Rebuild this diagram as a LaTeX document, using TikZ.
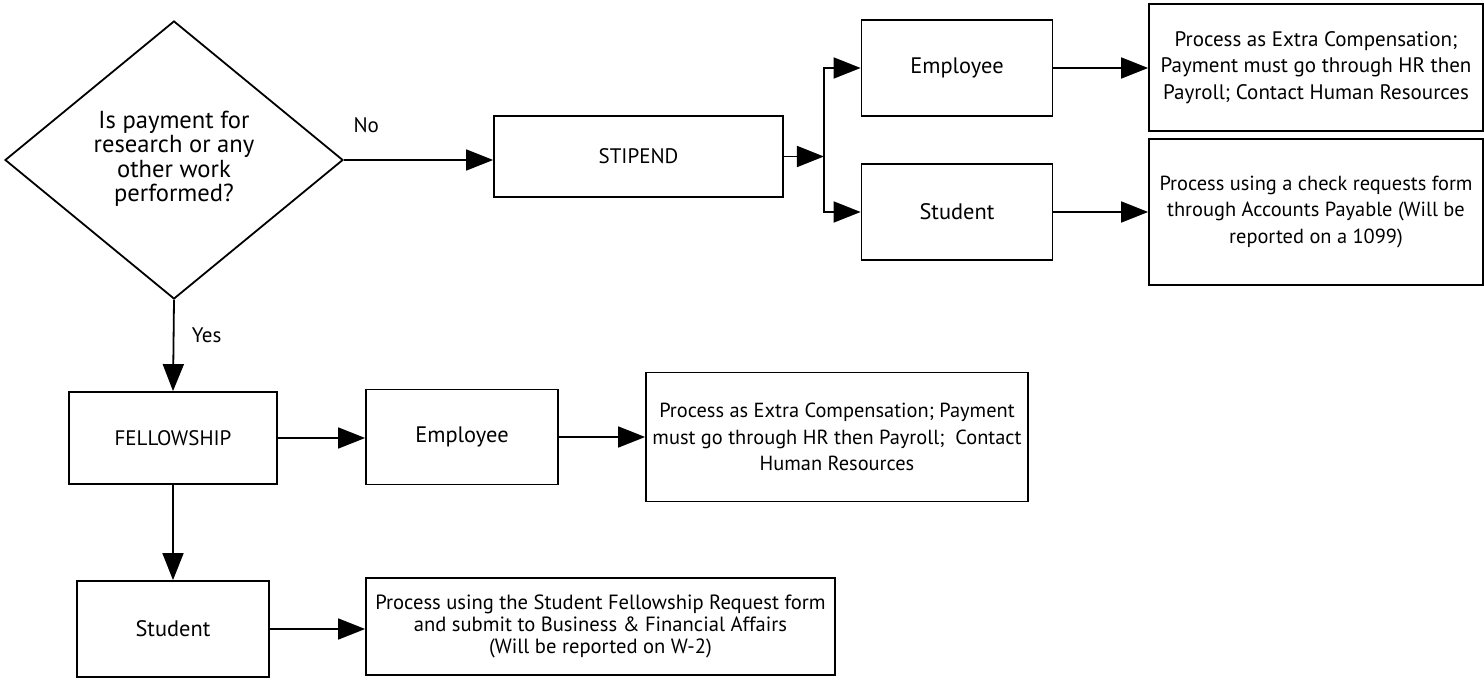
\documentclass[tikz,border=0pt]{standalone}
\usepackage{fontspec}
\setmainfont{PT Sans}
\usetikzlibrary{shapes.geometric,arrows.meta,calc,positioning}

\begin{document}
\begin{tikzpicture}[x=0.5pt, y=-0.5pt, line width=0.9pt, >={Triangle[length=13.5pt,width=10.5pt]},
                    font=\fontsize{10.5}{13.2}\selectfont]
   \useasboundingbox (0,0) rectangle (1484,678);
   \begin{scope}[every node/.style={draw, rectangle, align=center, inner xsep=0pt, inner ysep=2pt}]
    \node (q) [diamond, minimum width=169pt, minimum height=139pt,
               font=\fontsize{12.3}{11.6}\selectfont] at (174,160) {\raisebox{-3.5pt}{\begin{tabular}{@{}c@{}}Is payment for\\research or any\\other work\\performed?\end{tabular}}};
    \node (stipend) [minimum width=144.5pt, minimum height=40.5pt] at (638.5,156.5) {STIPEND};
    \node (emp1) [minimum width=95.5pt, minimum height=48pt, font=\fontsize{11.2}{13}\selectfont] at (957,68) {Employee};
    \node (stu1) [minimum width=95.5pt, minimum height=48pt, font=\fontsize{11.2}{13}\selectfont] at (957,212) {Student};
    \node (pay1) [minimum width=167pt, minimum height=63.5pt] at (1316,67.5) {Process as Extra Compensation;\\Payment must go through HR then\\Payroll; Contact Human Resources};
    \node (pay2) [minimum width=167pt, minimum height=73pt, font=\fontsize{10.2}{13.2}\selectfont] at (1316,212) {Process using a check requests form\\through Accounts Payable (Will be\\reported on a 1099)};
    \node (fell) [minimum width=104pt, minimum height=46pt] at (173,438) {FELLOWSHIP};
    \node (emp2) [minimum width=96pt, minimum height=47.5pt, font=\fontsize{11.2}{13}\selectfont] at (462,437) {Employee};
    \node (pay3) [minimum width=191pt, minimum height=64.5pt, font=\fontsize{10.2}{13.2}\selectfont] at (837,437) {Process as Extra Compensation; Payment\\must go through HR then Payroll;\ \ Contact\\Human Resources};
    \node (stu2) [minimum width=96pt, minimum height=48pt, font=\fontsize{11.2}{13}\selectfont] at (173,629) {Student};
    \node (pay4) [minimum width=234.5pt, minimum height=48.5pt,
                  font=\fontsize{10.3}{11}\selectfont] at (600.5,626.5) {Process using the Student Fellowship Request form\\and submit to Business \& Financial Affairs\\(Will be reported on W-2)};
   \end{scope}
   \coordinate (fork) at ($(stipend.east)+(40,0)$);
   \begin{scope}[->]
    \draw (q.east) -- node[pos=0.15, yshift=17.5pt]{No} (q.east -| stipend.west);
    \draw (stipend.east) -- (fork);
    \draw (fork) |- (emp1.west);
    \draw (fork) |- (stu1.west);
    \draw (emp1.east) -- (emp1.east -| pay1.west);
    \draw (stu1.east) -- (stu1.east -| pay2.west);
    \draw (q.south) -- node[pos=0.39, xshift=16.5pt]{Yes} (fell.north);
    \draw (fell.east) -- (fell.east -| emp2.west);
    \draw (emp2.east) -- (emp2.east -| pay3.west);
    \draw (fell.south) -- (stu2.north);
    \draw (stu2.east) -- (stu2.east -| pay4.west);
   \end{scope}
\end{tikzpicture}
\end{document}
